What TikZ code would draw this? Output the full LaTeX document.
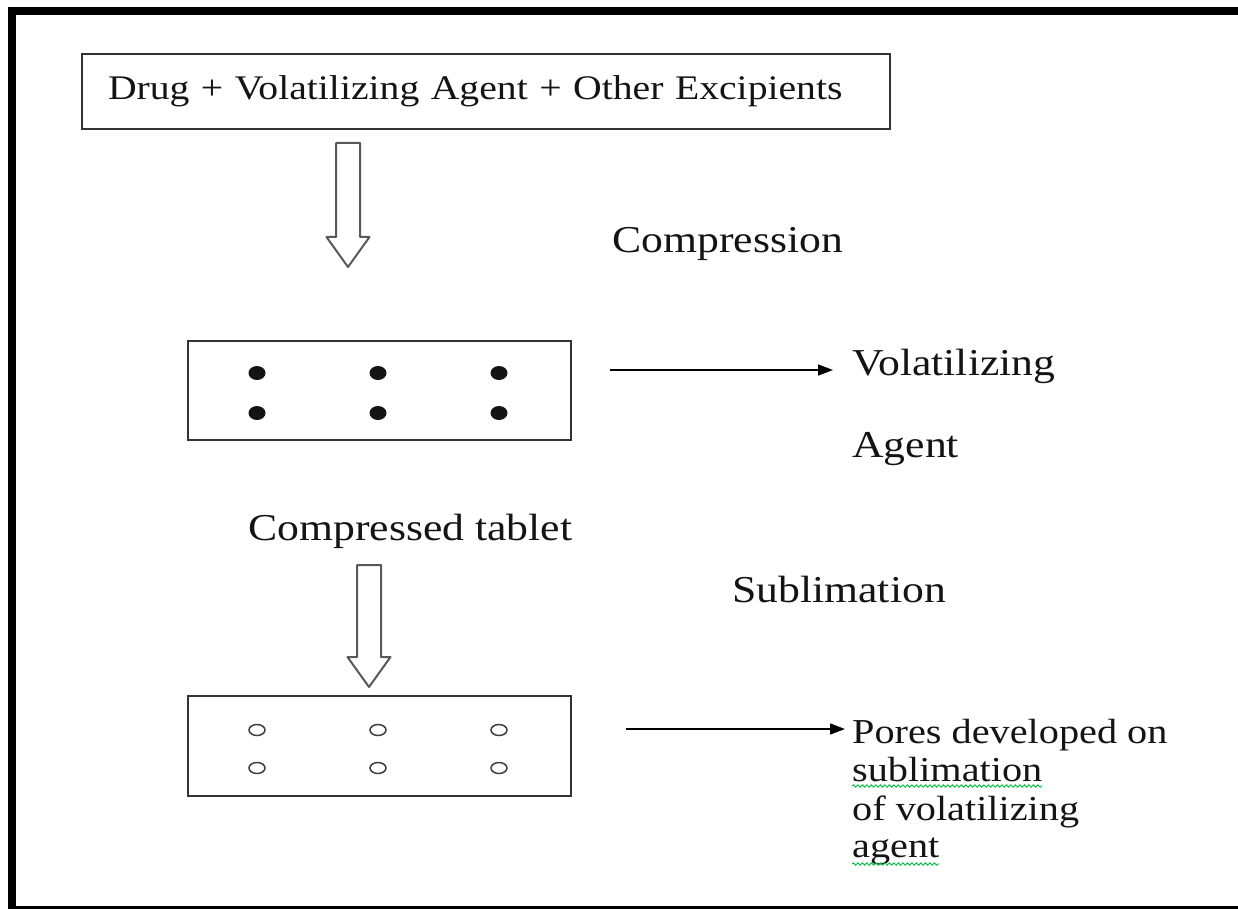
\documentclass[tikz,border=0pt]{standalone}
\usepackage{fontspec}
\setmainfont{Liberation Serif}[FakeStretch=1.15]
\usetikzlibrary{arrows.meta,decorations.pathmorphing}

\tikzset{
  boxline/.style={draw=black!80, line width=2pt},
  tablet/.style={boxline, minimum width=383pt, minimum height=99pt, inner sep=0pt},
  caption/.style={inner sep=0pt, anchor=base west, text=black!92, font=\fontsize{38}{44}\selectfont},
  poreline/.style={caption, font=\fontsize{35}{40}\selectfont},
  hollow/.style={draw=black!65, line width=2pt, fill=white, line join=round},
  pointer/.style={line width=1.6pt, -{Triangle[length=15pt,width=11pt]}},
  squiggle/.style={draw=green!50!teal, line width=0.9pt, decorate, decoration={snake, amplitude=1.2pt, segment length=4.5pt}},
  pics/hollowdown/.style={code={
    \draw[hollow] (-12,0) -- (12,0) -- (12,30-#1) -- (21.5,30-#1) -- (0,-#1) -- (-21.5,30-#1) -- (-12,30-#1) -- cycle;}}
}

\begin{document}
\begin{tikzpicture}[x=1pt,y=1pt,yscale=-1,xscale=1]
        \useasboundingbox (0,0) rectangle (1238,909);
        \fill[white] (0,0) rectangle (1238,909);
        % frame, cut off on the right
        \draw[line width=8pt] (1250,11) -- (12,11) -- (12,910) -- (1250,910);

        % mixture
        \node[boxline, anchor=north west, minimum height=75pt, text width=756pt, inner xsep=26pt, align=left, text=black!92, font=\fontsize{34.5}{40}\selectfont] (mix) at (81,53) {Drug + Volatilizing Agent + Other Excipients};
        \pic at (348,143) {hollowdown=124};
        \node[caption] (comp) at (612,252) {Compression};

        % compressed tablet with volatilizing agent
        \node[tablet] (tab1) at (379.5,390.5) {};
        \foreach \x in {257,378,499}
          \foreach \y in {373,413}
            \fill[black!92] (\x,\y) ellipse [x radius=8.5, y radius=7];
        \node[caption] (vol) at (852,375) {Volatilizing};
        \node[caption] (agent) at (852,457) {Agent};
        \coordinate (a1) at (610,370);
        \draw[pointer, shorten >=19pt] (a1) -- (a1 -| vol.west);

        \node[caption] (ctab) at (248,540) {Compressed tablet};
        \pic at (369,565) {hollowdown=122};
        \node[caption] (subl) at (732,602) {Sublimation};

        % porous tablet
        \node[tablet, minimum height=100pt] (tab2) at (379.5,746) {};
        \foreach \x in {257,378,499}
          \foreach \y in {730,768}
            \draw[black!75, line width=1.5pt] (\x,\y) ellipse [x radius=8, y radius=5.5];
        \node[poreline] (pores1) at (852,743) {Pores developed on};
        \node[poreline] (pores2) at (852,781) {sublimation};
        \node[poreline] (pores3) at (852,820) {of volatilizing};
        \node[poreline] (pores4) at (852,857) {agent};
        \draw[squiggle] ([yshift=5pt]pores2.base west) -- ([yshift=5pt]pores2.base east);
        \draw[squiggle] ([yshift=7pt]pores4.base west) -- ([yshift=7pt]pores4.base east);
        \coordinate (a2) at (626,729);
        \draw[pointer, shorten >=7pt] (a2) -- (a2 -| pores1.west);

    \end{tikzpicture}
\end{document}
